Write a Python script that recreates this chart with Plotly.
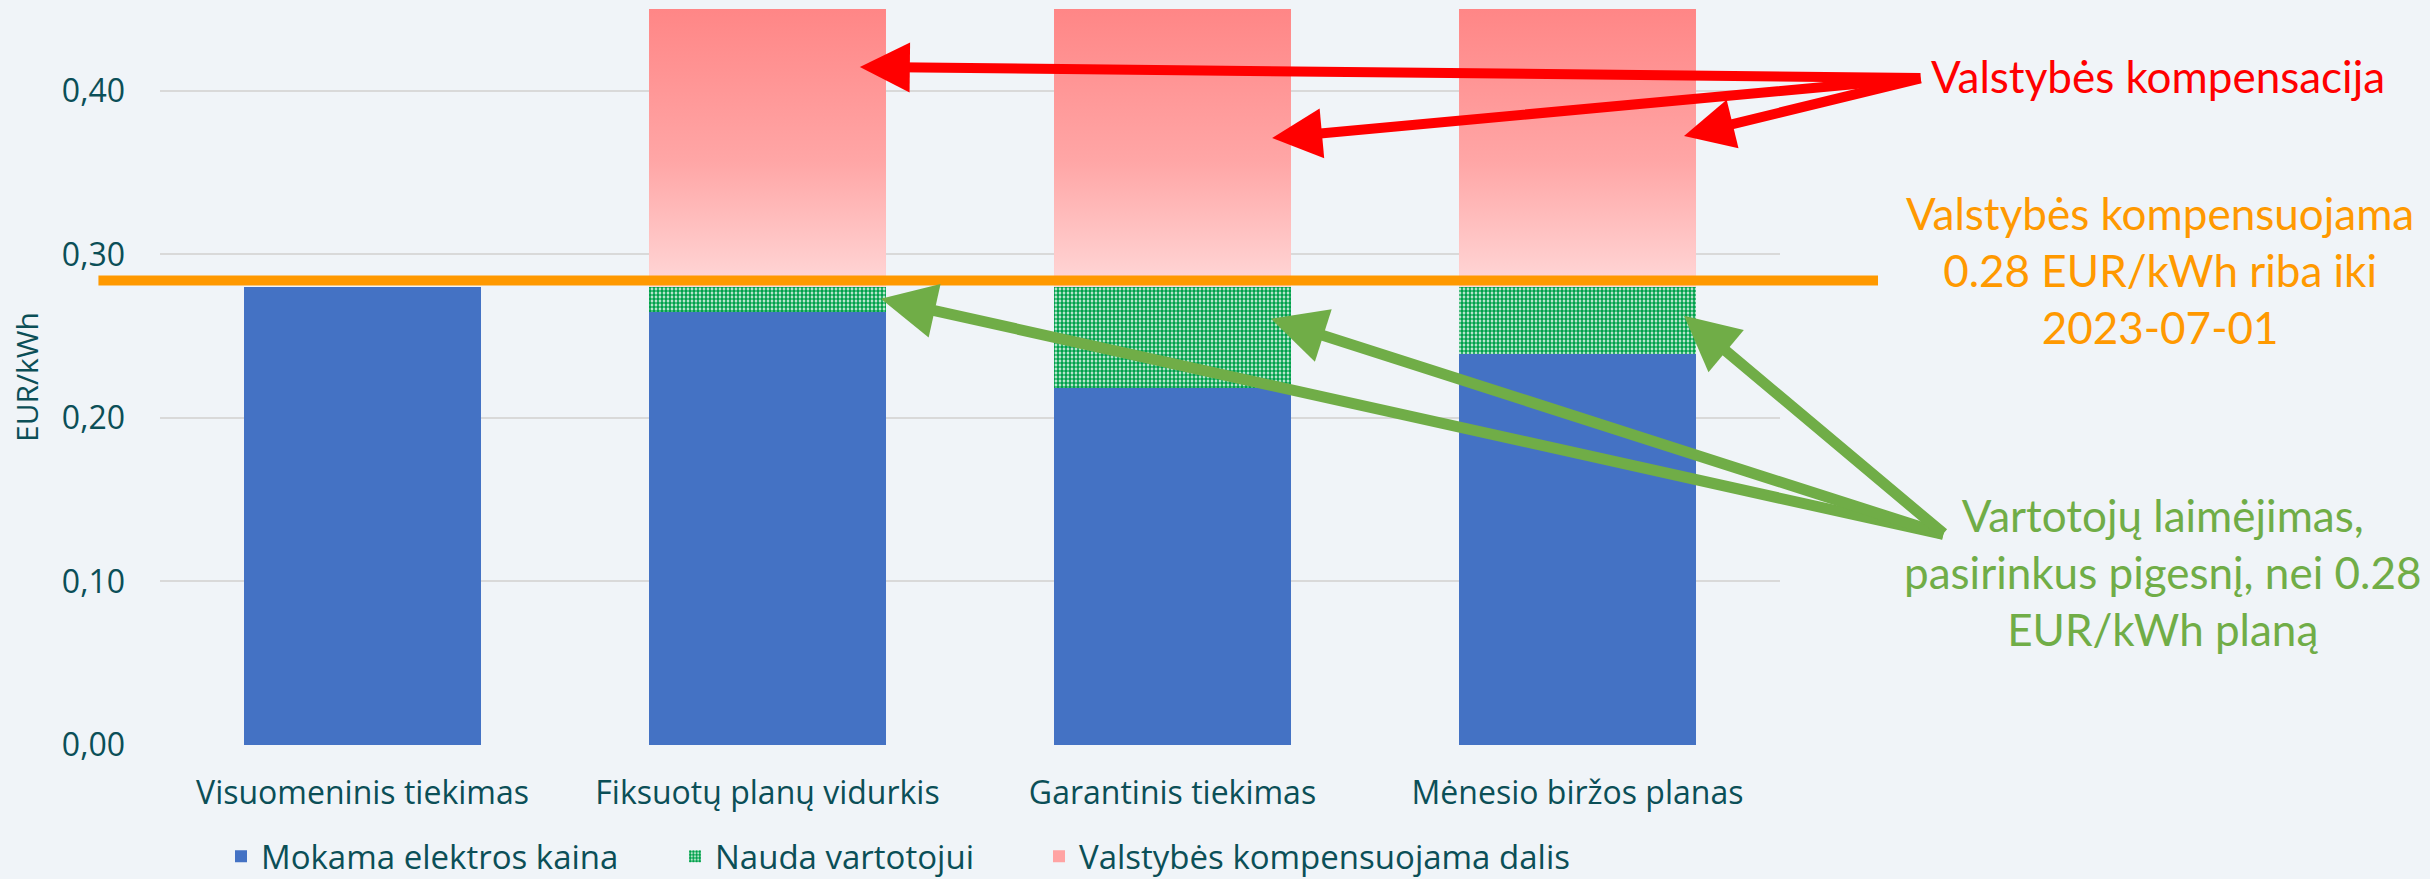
import plotly.graph_objects as go

categories = ["Visuomeninis tiekimas", "Fiksuotų planų vidurkis", "Garantinis tiekimas", "Mėnesio biržos planas"]
paid_price = [0.280, 0.265, 0.218, 0.239]        # Mokama elektros kaina
consumer_benefit = [0.000, 0.015, 0.062, 0.041]  # Nauda vartotojui
state_comp = [0.000, 0.170, 0.170, 0.170]        # Valstybės kompensuojama dalis
series_names = ["Mokama elektros kaina", "Nauda vartotojui", "Valstybės kompensuojama dalis"]
cap_value = 0.284
y_ticks = [0.0, 0.1, 0.2, 0.3, 0.4]
y_ticktext = ["0,00", "0,10", "0,20", "0,30", "0,40"]

TEAL = "#0B4F57"
BLUE = "#4472C4"
GREEN_PAT = "#00A14B"
ORANGE = "#FF9900"
RED = "#FF0000"
GREEN = "#70AD47"
BG = "#F0F4F8"
BAR_W = 0.585

xpos = list(range(len(categories)))

fig = go.Figure()
fig.add_trace(go.Bar(
    x=xpos, y=paid_price, width=BAR_W, name=series_names[0], legend="legend",
    marker=dict(color=BLUE, line=dict(width=0)), hoverinfo="skip"))
fig.add_trace(go.Bar(
    x=xpos, y=consumer_benefit, width=BAR_W, name=series_names[1], legend="legend2",
    marker=dict(color="white", line=dict(width=0),
                pattern=dict(shape=".", fgcolor=GREEN_PAT, bgcolor="white",
                             size=4, solidity=0.7, fillmode="replace")),
    hoverinfo="skip"))
fig.add_trace(go.Bar(
    x=xpos, y=state_comp, width=BAR_W, name=series_names[2], legend="legend3",
    marker=dict(color="#FFA3A3", line=dict(width=0)), hoverinfo="skip"))

# gradient overlay for the compensation segment, built from the data arrays
for i, (p, b, c) in enumerate(zip(paid_price, consumer_benefit, state_comp)):
    if c <= 0:
        continue
    base = p + b
    top = base + c
    fig.add_trace(go.Scatter(
        x=[i - BAR_W / 2, i + BAR_W / 2, i + BAR_W / 2, i - BAR_W / 2, i - BAR_W / 2],
        y=[base, base, top, top, base],
        mode="lines", line=dict(width=0), fill="toself",
        fillgradient=dict(type="vertical",
                          colorscale=[[0, "#FFD8D8"], [0.45, "#FFA6A6"], [1, "#FF8686"]]),
        showlegend=False, hoverinfo="skip"))

# orange cap line
fig.add_shape(type="line", xref="paper", yref="y", x0=-0.038, x1=1.0605,
              y0=cap_value, y1=cap_value, line=dict(color=ORANGE, width=10), layer="above")

# arrows (tip in data coords, tail as pixel offset)
red_tips = [(1.228, 0.4146, 1062, 11), (2.246, 0.3712, 650, -60), (3.263, 0.3724, 238, -58)]
green_tips = [(1.280, 0.2728, 1064, 236), (2.243, 0.2606, 674, 216), (3.263, 0.2624, 261, 219)]
for x, y, ax, ay in red_tips:
    fig.add_annotation(x=x, y=y, ax=ax, ay=ay, xref="x", yref="y", text="",
                       showarrow=True, arrowhead=2, arrowsize=1.0, arrowwidth=10,
                       arrowcolor=RED)
for x, y, ax, ay in green_tips:
    fig.add_annotation(x=x, y=y, ax=ax, ay=ay, xref="x", yref="y", text="",
                       showarrow=True, arrowhead=2, arrowsize=1.0, arrowwidth=11,
                       arrowcolor=GREEN)

# text labels on the right
fig.add_annotation(xref="paper", yref="paper", x=(2158 - 160) / 1620, y=(745.5 - 76) / 736.5,
                   text="Valstybės kompensacija", showarrow=False,
                   font=dict(family="Lato", size=44, color=RED), xanchor="center", yanchor="middle")
fig.add_annotation(xref="paper", yref="paper", x=(2160 - 160) / 1620, y=(745.5 - 270) / 736.5,
                   text="Valstybės kompensuojama<br>0.28 EUR/kWh riba iki<br>2023-07-01",
                   showarrow=False, align="center",
                   font=dict(family="Lato", size=44, color=ORANGE), xanchor="center", yanchor="middle")
fig.add_annotation(xref="paper", yref="paper", x=(2162 - 160) / 1620, y=(745.5 - 572) / 736.5,
                   text="Vartotojų laimėjimas,<br>pasirinkus pigesnį, nei 0.28<br>EUR/kWh planą",
                   showarrow=False, align="center",
                   font=dict(family="Lato", size=44, color=GREEN), xanchor="center", yanchor="middle")

legend_y = (745.5 - 857) / 736.5


def legend_at(px):
    return dict(orientation="h", x=(px - 160) / 1620, xanchor="left",
                y=legend_y, yanchor="middle",
                font=dict(family="Open Sans", size=33, color=TEAL),
                bgcolor="rgba(0,0,0,0)", itemwidth=30)


fig.update_layout(
    width=2430, height=879,
    margin=dict(l=160, r=650, t=9, b=133.5, pad=0, autoexpand=False),
    paper_bgcolor=BG, plot_bgcolor=BG,
    barmode="stack", bargap=0,
    font=dict(family="Open Sans", size=32, color=TEAL),
    showlegend=True,
    legend=legend_at(221),
    legend2=legend_at(675),
    legend3=legend_at(1039),
    xaxis=dict(range=[-0.5, 3.5], tickmode="array", tickvals=xpos, ticktext=categories,
               showgrid=False, zeroline=False, showline=False, ticks="", automargin=False,
               ticklabelstandoff=26, tickfont=dict(family="Open Sans", size=32, color=TEAL),
               fixedrange=True),
    yaxis=dict(range=[0, 0.45], tickmode="array", tickvals=y_ticks, ticktext=y_ticktext,
               showgrid=True, gridcolor="#D9D9D9", gridwidth=2, zeroline=False, automargin=False,
               showline=False, ticks="", ticklabelstandoff=34,
               tickfont=dict(family="Open Sans", size=32, color=TEAL),
               title=dict(text="EUR/kWh", standoff=14,
                          font=dict(family="Open Sans", size=30, color=TEAL)),
               fixedrange=True),
)

fig.write_html("out.html")
